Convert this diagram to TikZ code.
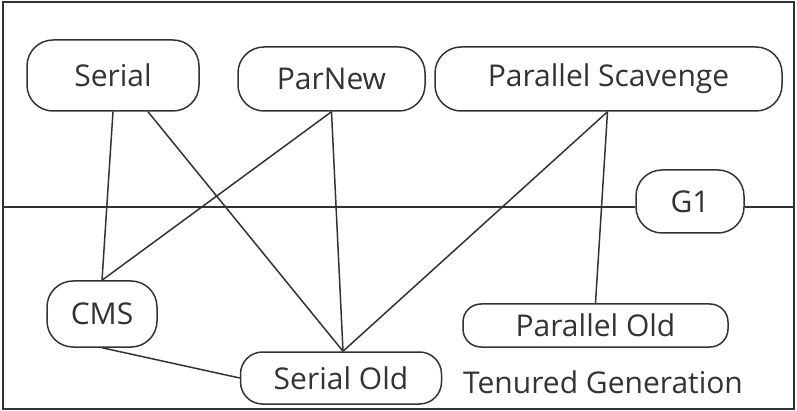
\documentclass[tikz,border=0pt]{standalone}
\usepackage{fontspec}
\setmainfont{Open Sans}
\usetikzlibrary{calc}
\definecolor{linegray}{HTML}{333333}
\tikzset{
  gcbox/.style={draw=linegray, line width=1.5pt, rounded corners=26pt, inner sep=0pt, text=linegray},
  gcline/.style={draw=linegray, line width=1.5pt}
}

\begin{document}
\begin{tikzpicture}[x=1pt, y=-1pt, font=\fontsize{30}{36}\selectfont]
      \useasboundingbox (0, 0) rectangle (797, 411);
      \draw[gcline] (3, 2) rectangle (794, 409);

      \node[gcbox, minimum width=172pt, minimum height=71pt] (serial) at (113, 75.5) {Serial};
      \node[gcbox, minimum width=187pt, minimum height=64pt] (parnew) at (331.5, 79) {ParNew};
      \node[gcbox, minimum width=347pt, minimum height=64pt] (scavenge) at (608.5, 79) {Parallel Scavenge};
      \node[gcbox, fill=white, minimum width=108pt, minimum height=63pt] (g1) at (690, 201.5) {G1};
      \node[gcbox, minimum width=110pt, minimum height=66pt] (cms) at (102, 314) {CMS};
      \node[gcbox, rounded corners=22pt, minimum width=201pt, minimum height=52pt] (serialold) at (341, 378) {Serial Old};
      \node[gcbox, rounded corners=18pt, minimum width=265pt, minimum height=43pt] (parold) at (595.5, 325.5) {Parallel Old};
      \node[text=linegray, inner sep=0pt] (tenured) at (603, 382) {Tenured Generation};

      \coordinate (left) at (3, 207);
      \coordinate (right) at (794, 207);
      \draw[gcline] (left) -- (left -| g1.west);
      \draw[gcline] (right -| g1.east) -- (right);

      \draw[gcline] (serial.south) -- (cms.north);
      \draw[gcline] ([xshift=35pt]serial.south) -- ([xshift=2pt]serialold.north);
      \draw[gcline] (parnew.south) -- (cms.north);
      \draw[gcline] (parnew.south) -- ([xshift=2pt]serialold.north);
      \draw[gcline] ([xshift=-1pt]scavenge.south) -- ([xshift=2pt]serialold.north);
      \draw[gcline] ([xshift=-1pt]scavenge.south) -- (parold.north);
      \draw[gcline] (cms.south) -- (serialold.west);
\end{tikzpicture}
\end{document}
